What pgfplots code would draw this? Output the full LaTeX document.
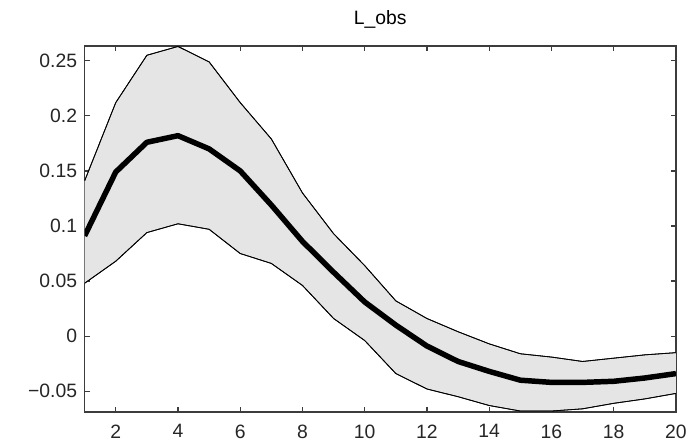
\documentclass[border=0pt]{standalone}
\usepackage{fontspec}
\setmainfont{Liberation Sans}
\usepackage{pgfplots}
\pgfplotsset{compat=1.18}
\usepackage{pgfplotstable}
\usepgfplotslibrary{fillbetween}

\pgfplotstableread{
x upper mean lower
1 0.141 0.091 0.048
2 0.212 0.149 0.068
3 0.255 0.176 0.094
4 0.263 0.182 0.102
5 0.249 0.170 0.097
6 0.212 0.150 0.075
7 0.179 0.119 0.066
8 0.130 0.086 0.046
9 0.093 0.058 0.016
10 0.064 0.031 -0.004
11 0.032 0.010 -0.034
12 0.016 -0.009 -0.048
13 0.004 -0.023 -0.055
14 -0.007 -0.032 -0.063
15 -0.016 -0.040 -0.068
16 -0.019 -0.042 -0.068
17 -0.023 -0.042 -0.066
18 -0.020 -0.041 -0.061
19 -0.017 -0.038 -0.057
20 -0.015 -0.034 -0.052
}\irf

\definecolor{bandgray}{RGB}{229,229,229}
\definecolor{axgray}{RGB}{60,60,60}

\begin{document}
\begin{tikzpicture}
\begin{axis}[
    at={(0,0)}, anchor=south west,
    scale only axis,
    width=594bp, height=368bp,
    xmin=1, xmax=20, ymin=-0.069, ymax=0.2636,
    xtick={2,4,...,20},
    ytick={-0.05,0,0.05,0.1,0.15,0.2,0.25},
    yticklabels={−0.05,0,0.05,0.1,0.15,0.2,0.25},
    tick align=inside,
    major tick length=5bp,
    axis line style={axgray, line width=1.6bp},
    every tick/.style={axgray, line width=1.2bp},
    tick label style={font=\fontsize{19.5}{19.5}\selectfont, text=black!85},
    xticklabel style={anchor=north, yshift=-9bp},
    yticklabel style={anchor=east, xshift=-4bp},
    /pgf/number format/assume math mode=true,
    xtick pos=both, ytick pos=both,
    title={L\_obs},
    title style={font=\fontsize{19.5}{19.5}\selectfont, yshift=8bp},
]
\addplot[name path=up, black, line width=0.8bp] table[x=x, y=upper] {\irf};
\addplot[name path=lo, black, line width=0.8bp] table[x=x, y=lower] {\irf};
\addplot[bandgray] fill between[of=up and lo];
\addplot[black, line width=0.8bp] table[x=x, y=upper] {\irf};
\addplot[black, line width=0.8bp] table[x=x, y=lower] {\irf};
\addplot[black, line width=5.5bp, line join=round] table[x=x, y=mean] {\irf};
\end{axis}
\path (-85bp,-31bp) rectangle (605bp,414bp);
\end{tikzpicture}
\end{document}
